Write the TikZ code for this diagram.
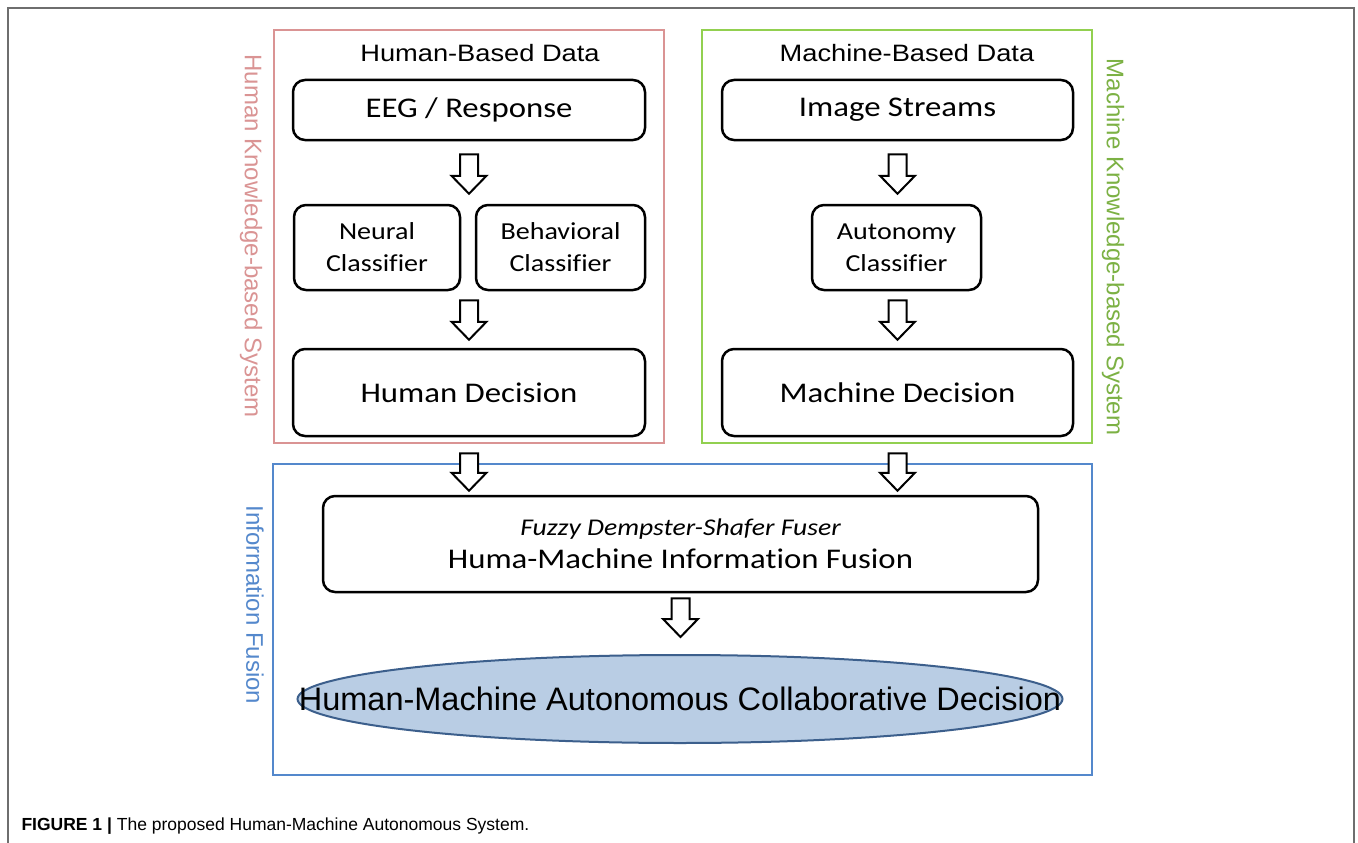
\documentclass[tikz,border=0pt]{standalone}
\usepackage{fontspec}
\setmainfont{Carlito}[FakeStretch=1.15, Ligatures={NoCommon}]
\newfontfamily\arialx{Liberation Sans}[FakeStretch=1.15]
\newfontfamily\arial{Liberation Sans}
\usepackage{tikz}
\usetikzlibrary{positioning, calc, shapes.geometric}
\usepackage{xcolor}
\definecolor{humanred}{RGB}{218,148,148}
\definecolor{machgreen}{RGB}{146,208,80}
\definecolor{fusionblue}{RGB}{84,136,204}
\definecolor{ellfill}{RGB}{185,205,228}
\definecolor{elldraw}{RGB}{60,95,140}
\definecolor{framegray}{RGB}{110,110,110}

\tikzset{
  stagebox/.style={draw, rounded corners=12, line width=2.5, align=center, inner sep=0},
  bigtxt/.style={font=\fontsize{28.5}{34}\selectfont},
  smalltxt/.style={font=\fontsize{24.4}{32}\selectfont},
  sidelabel/.style={rotate=-90, font=\arial\fontsize{24}{28}\selectfont},
  group/.style={line width=2},
}
\newcommand{\blockarrow}[2]{%
  \path[draw, fill=white, line width=2] let \p1=#1, \p2=#2 in
    (\x1-9pt,\y1) -- (\x1-9pt,\y2+18pt) -- (\x1-17.5pt,\y2+18pt) -- (\x1,\y2)
    -- (\x1+17.5pt,\y2+18pt) -- (\x1+9pt,\y2+18pt) -- (\x1+9pt,\y1) -- cycle;}

\begin{document}
\begin{tikzpicture}[x=1pt, y=-1pt]
  \useasboundingbox (0,0) rectangle (1358,843);
  \fill[white] (0,0) rectangle (1358,843);
  % page frame
  \draw[framegray, line width=1.5] (8,860) -- (8,8) -- (1354,8) -- (1354,860);

  % group frames
  \draw[humanred, group] (274,30) rectangle (664,443);
  \draw[machgreen, group] (702,30) rectangle (1092,443);
  \draw[fusionblue, group] (273,464) rectangle (1092,775);

  \node[sidelabel, text=humanred] (hklabel) at (251,236) {Human Knowledge-based System};
  \node[sidelabel, text=machgreen!85!black] (mklabel) at (1113,247) {Machine Knowledge-based System};
  \node[sidelabel, text=fusionblue] (iflabel) at (255,605) {Information Fusion};

  % human side
  \node[font=\arialx\fontsize{23.7}{28}\selectfont] (htitle) at (480,53) {Human-Based Data};
  \node[stagebox, bigtxt, minimum width=352, minimum height=60] (eeg) at (469,110) {EEG / Response};
  \node[stagebox, smalltxt, minimum width=166, minimum height=85] (neural) at (377,247.5) {Neural\\Classifier};
  \node[stagebox, smalltxt, minimum width=169, minimum height=85] (behav) at (560.5,247.5) {Behavioral\\Classifier};
  \node[stagebox, bigtxt, minimum width=352, minimum height=87] (hdec) at (469,392.5) {Human Decision};

  % machine side
  \node[font=\arialx\fontsize{23.7}{28}\selectfont] (mtitle) at (907,53) {Machine-Based Data};
  \node[stagebox, bigtxt, minimum width=351, minimum height=60] (img) at (897.5,110) {Image Streams};
  \node[stagebox, smalltxt, minimum width=169, minimum height=85] (auto) at (896.5,247.5) {Autonomy\\Classifier};
  \node[stagebox, bigtxt, minimum width=351, minimum height=87] (mdec) at (897.5,392.5) {Machine Decision};

  % fusion
  \node[stagebox, font=\fontsize{28.5}{33}\selectfont, minimum width=715, minimum height=96] (fuser) at (680.5,544)
    {{\fontsize{24}{33}\selectfont\itshape Fuzzy Dempster-Shafer Fuser}\\
     Huma-Machine Information Fusion};
  \node[ellipse, draw=elldraw, fill=ellfill, line width=2, minimum width=765, minimum height=88, inner sep=0] (collab) at (680,699) {};
  \node[font=\arial\fontsize{32.5}{36}\selectfont] (collabtxt) at (collab.center) {Human-Machine Autonomous Collaborative Decision};

  % block arrows
  \blockarrow{($(eeg.south)+(0,13)$)}{($(eeg.south |- neural.north)+(0,-10)$)}
  \blockarrow{($(eeg.south |- neural.south)+(0,9)$)}{($(hdec.north)+(0,-8)$)}
  \blockarrow{($(img.south)+(0,13)$)}{($(img.south |- auto.north)+(0,-10)$)}
  \blockarrow{($(img.south |- auto.south)+(0,9)$)}{($(mdec.north)+(0,-8)$)}
  \blockarrow{($(hdec.south)+(0,16)$)}{($(hdec.south |- fuser.north)+(0,-4)$)}
  \blockarrow{($(mdec.south)+(0,16)$)}{($(mdec.south |- fuser.north)+(0,-4)$)}
  \blockarrow{($(fuser.south)+(0,5)$)}{($(collab.north)+(0,-17)$)}

  \node[anchor=west, font=\arial\fontsize{17.5}{20}\selectfont] (caption) at (18,826)
    {\textbf{FIGURE 1 |} The proposed Human-Machine Autonomous System.};
\end{tikzpicture}
\end{document}
